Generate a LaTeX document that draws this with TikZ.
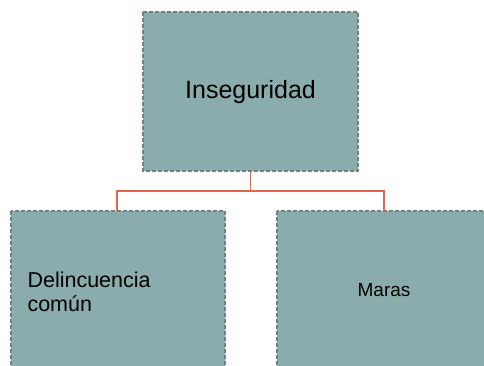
\documentclass[tikz,border=0pt]{standalone}
\usepackage{fontspec}
\setmainfont{Liberation Sans}
\definecolor{boxfill}{HTML}{8AACAC}
\definecolor{boxline}{HTML}{6B8383}
\definecolor{conn}{HTML}{E0654A}
\begin{document}
\begin{tikzpicture}[x=1pt,y=-1pt,
  orgbox/.style={draw=boxline, fill=boxfill, line width=1.1pt, dash pattern=on 4pt off 2pt, inner sep=0pt},
  link/.style={draw=conn, line width=1.4pt}]
\useasboundingbox (0,0) rectangle (484,366);
\begin{scope}
\clip (0,0) rectangle (484,366);
\path[orgbox] (143,12) rectangle (358,171);
\path[orgbox] (11,211) rectangle (225,370);
\path[orgbox] (277,211) rectangle (491,370);
\end{scope}
\coordinate (topB) at (250.5,171.5);
\coordinate (mid) at (250.5,191);
\coordinate (lt) at (117,211);
\coordinate (rt) at (384,211);
\node[font=\fontsize{25}{30}\selectfont] (top) at (250.5,92) {Inseguridad};
\node[anchor=west, align=left, font=\fontsize{21.5}{24}\selectfont] (left) at (24,292) {Delincuencia\\común};
\node[font=\fontsize{19}{23}\selectfont] (right) at (384,290) {Maras};
\draw[link] (topB) -- (mid);
\draw[link] (lt) |- (mid) -| (rt);
\end{tikzpicture}
\end{document}
